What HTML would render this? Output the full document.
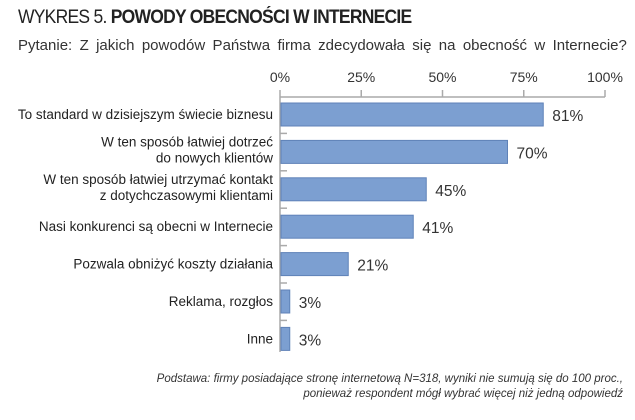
<!DOCTYPE html>
<html><head><meta charset="utf-8"><style>
body{margin:0;width:635px;height:420px;background:#fff;font-family:"Liberation Sans",sans-serif;overflow:hidden}
#t{position:absolute;left:18px;top:7px;font-size:19px;color:#222;letter-spacing:-0.8px;transform:scaleX(0.92);transform-origin:left}
#q{position:absolute;left:18px;top:37px;font-size:15px;word-spacing:3.2px;color:#333;white-space:nowrap}
#f{position:absolute;right:12px;top:372px;font-size:11.5px;font-style:italic;color:#333;text-align:right;line-height:15px}
</style></head><body>
<div id="t">WYKRES 5. <b>POWODY OBECNOŚCI W INTERNECIE</b></div>
<div id="q">Pytanie: Z jakich powodów Państwa firma zdecydowała się na obecność w Internecie?</div>
<svg id="c" width="635" height="420" style="position:absolute;left:0;top:0"></svg>
<div id="f">Podstawa: firmy posiadające stronę internetową N=318, wyniki nie sumują się do 100 proc.,<br>ponieważ respondent mógł wybrać więcej niż jedną odpowiedź</div>
<script>
const categories=[["To standard w dzisiejszym świecie biznesu"],["W ten sposób łatwiej dotrzeć","do nowych klientów"],["W ten sposób łatwiej utrzymać kontakt","z dotychczasowymi klientami"],["Nasi konkurenci są obecni w Internecie"],["Pozwala obniżyć koszty działania"],["Reklama, rozgłos"],["Inne"]];
const values=[81,70,45,41,21,3,3];
const ticks=[0,25,50,75,100];
const ns="http://www.w3.org/2000/svg",svg=document.getElementById('c');
const x=v=>280+v*3.25, y=i=>103+i*37.4;
function mk(t,a,txt){const e=document.createElementNS(ns,t);for(const k in a)e.setAttribute(k,a[k]);if(txt!=null)e.textContent=txt;svg.appendChild(e);return e;}
let ax=mk('line',{x1:280,y1:97,x2:605,y2:97,stroke:'#aaa','stroke-width':1.5});


let ay=mk('line',{x1:280,y1:97,x2:280,y2:352,stroke:'#aaa','stroke-width':1.5});


ticks.forEach(t=>{
 let l=mk('line',{x1:x(t),y1:90,x2:x(t),y2:97,stroke:'#aaa','stroke-width':1.5});
 
 
 let tx=mk('text',{x:x(t),y:82,'text-anchor':'middle','font-size':14,fill:'#333'},t+'%');
 
 
});
values.forEach((v,i)=>{
 if(i>0){let l=mk('line',{x1:280,y1:y(i)-7,x2:287,y2:y(i)-7,stroke:'#aaa','stroke-width':1.5});
 
 }
 let r=mk('rect',{x:281,y:y(i),width:x(v)-281,height:23,fill:'#7c9fd1',stroke:'#5f82b8','stroke-width':1});
 
 
 let vt=mk('text',{x:x(v)+9,y:y(i)+18,'font-size':15.5,fill:'#333'},v+'%');
 
 
 const lines=categories[i];
 lines.forEach((s,j)=>{
  let cy=y(i)+16+(lines.length==2?(j-0.5)*16-2:0);
  let ct=mk('text',{x:273,y:cy,'text-anchor':'end','font-size':13.5,fill:'#222'},s);
  
  
 });
});
</script>
</body></html>
